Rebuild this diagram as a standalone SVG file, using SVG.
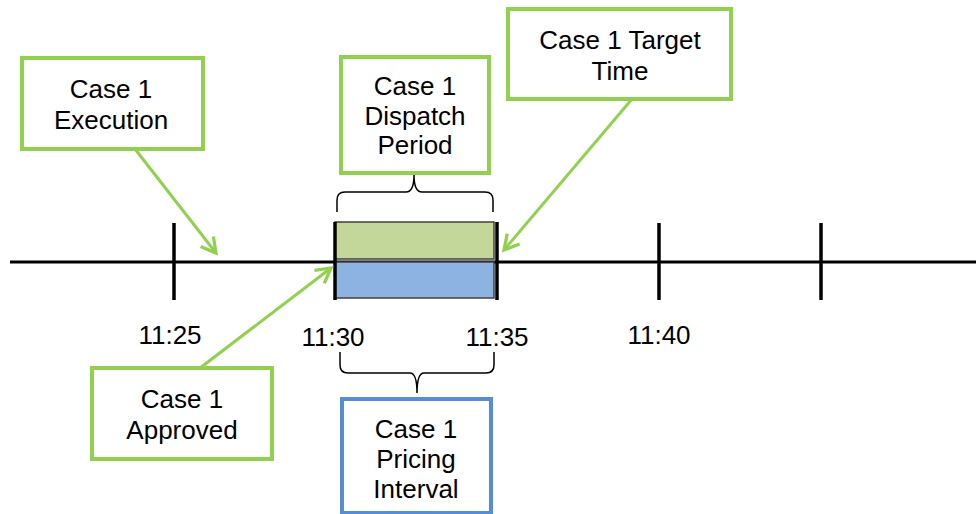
<svg xmlns="http://www.w3.org/2000/svg" width="976" height="514" viewBox="0 0 976 514">
<defs>
<style>
text{font-family:"Liberation Sans",Arial,sans-serif;font-size:26px;fill:#000;text-anchor:middle}
.gbox{fill:#fff;stroke:#92d050;stroke-width:4}
.bbox{fill:#fff;stroke:#558ed5;stroke-width:4}
.tick{stroke:#000;stroke-width:3.5}
.conn{stroke:#92d050;stroke-width:3;fill:none}
.brace{stroke:#000;stroke-width:1.5;fill:none}
</style>
<marker id="arr" viewBox="0 0 12 12" refX="10" refY="6" markerWidth="6.5" markerHeight="6.5" orient="auto" markerUnits="strokeWidth">
<path d="M1,1 L10,6 L1,11" fill="none" stroke="#92d050" stroke-width="2"/>
</marker>
</defs>
<g id="timeline">
<line x1="10" y1="262" x2="976" y2="262" stroke="#000" stroke-width="3"/>
<rect x="335" y="222" width="159" height="37" fill="#c4d79b" stroke="#404040" stroke-width="1.5"/>
<rect x="335" y="262" width="159" height="36" fill="#8db3e2" stroke="#404040" stroke-width="1.5"/>
<line class="tick" x1="174" y1="223" x2="174" y2="300"/>
<line class="tick" x1="335" y1="222" x2="335" y2="300"/>
<line class="tick" x1="497" y1="222" x2="497" y2="300"/>
<line class="tick" x1="659" y1="223" x2="659" y2="300"/>
<line class="tick" x1="821" y1="223" x2="821" y2="300"/>
<text x="170" y="344">11:25</text>
<text x="333" y="346">11:30</text>
<text x="497" y="346">11:35</text>
<text x="659" y="344">11:40</text>
<path class="brace" d="M337,212 V200 Q337,192 345,192 H406 Q414,192 414,175 Q414,192 422,192 H485 Q493,192 493,200 V212"/>
<path class="brace" d="M340,352 V365 Q340,373 348,373 H410 Q417,373 417,393 Q417,373 424,373 H486 Q494,373 494,365 V352"/>
</g>
<g id="connectors">
<line class="conn" x1="135" y1="149" x2="216" y2="253" marker-end="url(#arr)"/>
<line class="conn" x1="200" y1="368" x2="331" y2="268" marker-end="url(#arr)"/>
<line class="conn" x1="632" y1="99" x2="504" y2="250" marker-end="url(#arr)"/>
</g>
<g id="execution">
<rect class="gbox" x="22" y="58" width="181" height="91"/>
<text x="111" y="98">Case 1</text>
<text x="111" y="129">Execution</text>
</g>
<g id="dispatch">
<rect class="gbox" x="341" y="57" width="148" height="116"/>
<text x="415" y="95">Case 1</text>
<text x="415" y="125">Dispatch</text>
<text x="415" y="154">Period</text>
</g>
<g id="target">
<rect class="gbox" x="508" y="9" width="223" height="90"/>
<text x="620" y="49">Case 1 Target</text>
<text x="620" y="80">Time</text>
</g>
<g id="approved">
<rect class="gbox" x="92" y="368" width="180" height="91"/>
<text x="182" y="408">Case 1</text>
<text x="182" y="439">Approved</text>
</g>
<g id="pricing">
<rect class="bbox" x="342" y="399" width="149" height="114"/>
<text x="416" y="438">Case 1</text>
<text x="416" y="468">Pricing</text>
<text x="416" y="498">Interval</text>
</g>
</svg>
